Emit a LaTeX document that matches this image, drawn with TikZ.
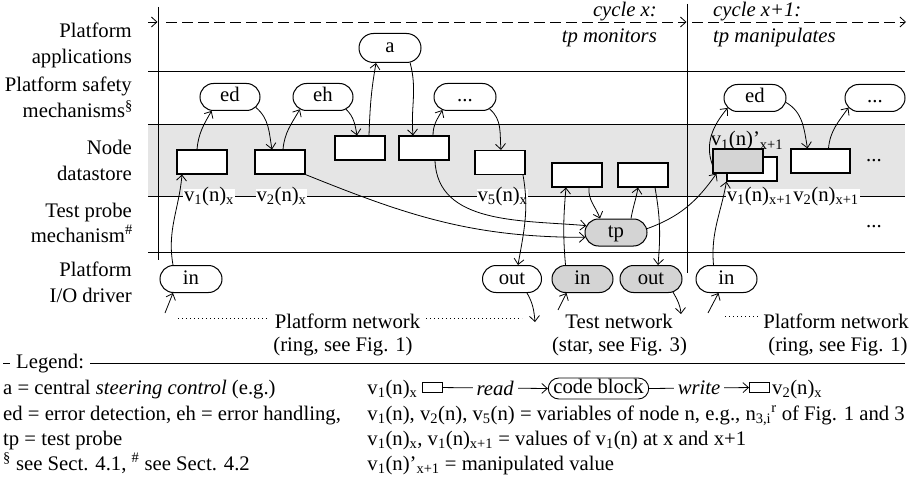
\documentclass[tikz,border=0pt]{standalone}
\usepackage{fontspec}
\setmainfont{Liberation Serif}
\usetikzlibrary{arrows.meta,shapes.misc}
\newcommand\vsub[2]{v\textsubscript{#1}(n)\textsubscript{#2}}
\newcommand\vvar[1]{v\textsubscript{#1}(n)}
\begin{document}
\begin{tikzpicture}[x=1pt,y=1pt,
  every node/.style={font=\fontsize{20.7}{25}\selectfont, inner sep=0pt},
  rule/.style={line width=1pt},
  lbl/.style={anchor=base east},
  pill/.style={rounded rectangle, draw, line width=1pt, minimum width=60pt,
    minimum height=27pt, text height=14pt, text depth=4pt, fill=white},
  gpill/.style={pill, fill=black!17},
  vbox/.style={draw, line width=1.1pt, fill=white, minimum width=50pt, minimum height=24pt},
  vlab/.style={anchor=base, fill=white, inner xsep=1pt, inner ysep=1pt, text height=11pt},
  arr/.style={-{Straight Barb[length=5.5pt,width=10pt]}, line width=0.8pt},
  dotline/.style={line width=0.9pt, dash pattern=on 0.9pt off 3.1pt},
  tline/.style={line width=0.9pt, dash pattern=on 11pt off 5pt},
  netlab/.style={anchor=base, fill=white, inner xsep=5pt, inner ysep=2pt},
  legbox/.style={draw, line width=0.9pt, minimum width=20pt, minimum height=10pt, anchor=south west},
]
\useasboundingbox (0,0) rectangle (916,-484);
% lanes
\fill[black!10] (148,-125) rectangle (905,-196);
\foreach \yy in {72,125,196,252} \draw[rule] (148,-\yy) -- (905,-\yy);
\draw[rule] (158,-7) -- (158,-260);
\draw[rule] (687,-4) -- (687,-273);
% time line
\coordinate (ta) at (148,-22); \coordinate (tb) at (157.5,-22);
\coordinate (tc) at (166,-22); \coordinate (td) at (686.5,-22);
\coordinate (te) at (692,-22); \coordinate (tf) at (906,-22);
\draw[tline,arr] (ta) -- (tb);
\draw[tline,arr] (tc) -- (td);
\draw[tline,arr] (te) -- (tf);
% lane labels
\node[lbl] (l1a) at (132,-38) {Platform};
\node[lbl] (l1b) at (132,-64) {applications};
\node[lbl] (l2a) at (132,-92) {Platform safety};
\node[lbl] (l2b) at (133,-118) {mechanisms\textsuperscript{\S}};
\node[lbl] (l3a) at (132,-155) {Node};
\node[lbl] (l3b) at (132,-181) {datastore};
\node[lbl] (l4a) at (132,-217) {Test probe};
\node[lbl] (l4b) at (133,-242) {mechanism\textsuperscript{\#}};
\node[lbl] (l5a) at (132,-276) {Platform};
\node[lbl] (l5b) at (132,-302) {I/O driver};
\node[anchor=base east] (cx1) at (657,-17) {\itshape cycle x:};
\node[anchor=base east] (cx2) at (657,-43) {\itshape tp monitors};
\node[anchor=base west] (cy1) at (713,-17) {\itshape cycle x+1:};
\node[anchor=base west] (cy2) at (713,-43) {\itshape tp manipulates};
% code blocks
\node[pill, minimum width=62pt, minimum height=29pt] (a) at (390,-48) {a};
\node[pill] (ed1) at (230,-97) {ed};
\node[pill] (eh) at (323,-97) {eh};
\node[pill, minimum width=62pt] (dt1) at (465,-97) {...};
\node[pill, minimum width=62pt] (ed2) at (755,-98) {ed};
\node[pill] (dt2) at (875,-98) {...};
\node[pill, minimum width=62pt] (in1) at (191,-279) {in};
\node[pill, minimum width=59pt] (out1) at (512,-279) {out};
\node[gpill, minimum width=61pt] (in2) at (582.5,-279) {in};
\node[gpill, minimum width=62pt] (out2) at (651,-279) {out};
\node[pill, minimum width=61pt] (in3) at (726.5,-279) {in};
\node[gpill, minimum width=62pt] (tp) at (616,-232.5) {tp};
% data store values
\node[vbox] (r1) at (202,-162) {};
\node[vbox] (r2) at (280,-162) {};
\node[vbox] (r3) at (360,-148) {};
\node[vbox] (r4) at (424,-148) {};
\node[vbox] (r5) at (500,-162.5) {};
\node[vbox] (r6) at (577,-175) {};
\node[vbox] (r7) at (643,-175) {};
\node[vbox] (r8b) at (752,-169) {};
\node[vbox, fill=black!17] (r8) at (738,-161) {};
\node[vbox, minimum width=59pt] (r9) at (820.5,-161) {};
% value labels
\node[vlab] (v1x) at (209,-201) {\vsub1x};
\node[vlab] (v2x) at (281.5,-201) {\vsub2x};
\node[vlab] (v5x) at (502.5,-201) {\vsub5x};
\node[vlab] (v1y) at (759.5,-201) {\vsub1{x+1}};
\node[vlab] (v2y) at (826,-201) {\vsub2{x+1}};
\node[anchor=base] (v1m) at (747,-146) {v\textsubscript{1}(n)'\textsubscript{x+1}};
\node[anchor=base] (dd1) at (874,-162) {...};
\node[anchor=base] (dd2) at (874,-227) {...};
% connectors
\draw[arr] ([xshift=-18pt]in1.north) to[out=100,in=-95] ([xshift=-20pt]r1.south);
\draw[arr] ([xshift=-5pt]r1.north) to[out=85,in=-120] (ed1.217);
\draw[arr] (ed1.-22) to[out=-40,in=100] ([xshift=-8pt]r2.north);
\draw[arr] ([xshift=3pt]r2.north) to[out=85,in=-120] (eh.208);
\draw[arr] (eh.-28) to[out=-45,in=100] ([xshift=-3pt]r3.north);
\draw[arr] ([xshift=9pt]r3.north) to[out=88,in=-100] ([xshift=-14pt]a.south);
\draw[arr] (a.-36) to[out=-75,in=95] ([xshift=-11pt]r4.north);
\draw[arr] ([xshift=9pt]r4.north) to[out=90,in=-120] (dt1.210);
\draw[arr] (dt1.-26) to[out=-40,in=95] ([xshift=1pt]r5.north);
\draw[arr] (r2.south east) to[out=-22,in=180] (tp.189);
\draw[arr] ([xshift=11pt]r4.south) to[out=-88,in=175] (tp.167);
\draw[arr] ([xshift=23pt]r5.south) to[out=-80,in=80] ([xshift=6pt]out1.north);
\draw[arr] ([xshift=-17pt]in2.north) to[out=95,in=-95] ([xshift=-11pt]r6.south);
\draw[arr] ([xshift=12pt]r6.south) to[out=-95,in=110] ([xshift=-16pt]tp.north);
\draw[arr] ([xshift=15pt]tp.north) to[out=80,in=-100] ([xshift=-5pt]r7.south);
\draw[arr] ([xshift=12pt]r7.south) to[out=-80,in=85] ([xshift=7pt]out2.north);
\draw[arr] (tp.7) to[out=20,in=-125] ([xshift=4pt]r8.south west);
\draw[arr] ([xshift=-13pt]in3.north) to[out=95,in=-100] (r8b.south west);
\draw[arr] ([yshift=-4pt]r8.west) to[out=110,in=-130] (ed2.200);
\draw[arr] (ed2.-8) to[out=-30,in=100] ([xshift=-13pt]r9.north);
\draw[arr] ([xshift=8pt]r9.north) to[out=85,in=-125] (dt2.200);
% networks
\coordinate (d1a) at (178,-318); \coordinate (d1b) at (522,-318);
\draw[dotline] (d1a) -- (d1b);
\coordinate (d2a) at (725,-316); \coordinate (d2b) at (780,-316);
\draw[dotline] (d2a) -- (d2b);
\node[netlab] (pn1) at (347.5,-328) {Platform network};
\node[anchor=base] (pn1b) at (343,-351) {(ring, see Fig. 1)};
\node[anchor=base] (tn) at (619,-328) {Test network};
\node[anchor=base] (tnb) at (619.5,-351) {(star, see Fig. 3)};
\node[netlab] (pn2) at (836,-328) {Platform network};
\node[anchor=base] (pn2b) at (838,-351) {(ring, see Fig. 1)};
\coordinate (n1) at (165,-313);
\draw[arr] (n1) -- ([xshift=-18pt]in1.south);
\coordinate (n2) at (535,-322);
\draw[arr] ([xshift=15pt]out1.south) to[out=-60,in=95] (n2);
\coordinate (n3) at (558,-310);
\draw[arr] (n3) -- ([xshift=-16pt]in2.south);
\coordinate (n4) at (681,-314);
\draw[arr] (out2.-31) to[out=-60,in=95] (n4);
\coordinate (n5) at (708,-313);
\draw[arr] (n5) -- ([xshift=-8pt]in3.south);
% legend
\coordinate (lg1) at (3,-363); \coordinate (lg2) at (905,-363);
\draw[line width=0.9pt] (lg1) -- (lg2);
\node[anchor=base west, fill=white, inner xsep=6pt, inner ysep=2pt] (leg) at (10,-368) {Legend:};
\node[anchor=base west] (ll1) at (3,-394) {a = central \textit{steering control} (e.g.)};
\node[anchor=base west] (ll2) at (3,-420) {ed = error detection, eh = error handling,};
\node[anchor=base west] (ll3) at (3,-445) {tp = test probe};
\node[anchor=base west] (ll4) at (3,-470) {\textsuperscript{\S} see Sect. 4.1, \textsuperscript{\#} see Sect. 4.2};
\node[anchor=base east] (lr2) at (905,-420) {\vvar1, \vvar2, \vvar5 = variables of node n, e.g., n\textsubscript{3,i}\textsuperscript{r} of Fig. 1 and 3};
\node[anchor=base west] (lr1) at (lr2.base west |- 0,-394) {\vsub1x};
\node[legbox] (lb1) at ([xshift=4pt,yshift=1pt]lr1.base east) {};
\node[rounded rectangle, draw, line width=0.9pt, minimum height=21pt, text height=14pt, text depth=4pt] (lcb) at (598.5,-388.5) {code block};
\node[legbox] (lb2) at (749,-393) {};
\node[anchor=base west] (lv2) at (772,-394) {\vsub2x};
\draw[arr] (lb1.east) -- node[fill=white, inner xsep=4pt, inner ysep=2pt] (rd) {\itshape read} (lcb.west);
\draw[arr] (lcb.east) -- node[fill=white, inner xsep=4pt, inner ysep=2pt] (wr) {\itshape write} (lb2.west);
\node[anchor=base west] (lr3) at (lr2.base west |- 0,-445) {\vsub1x, \vsub1{x+1} = values of \vvar1 at x and x+1};
\node[anchor=base west] (lr4) at (lr2.base west |- 0,-470) {v\textsubscript{1}(n)'\textsubscript{x+1} = manipulated value};
\end{tikzpicture}
\end{document}
